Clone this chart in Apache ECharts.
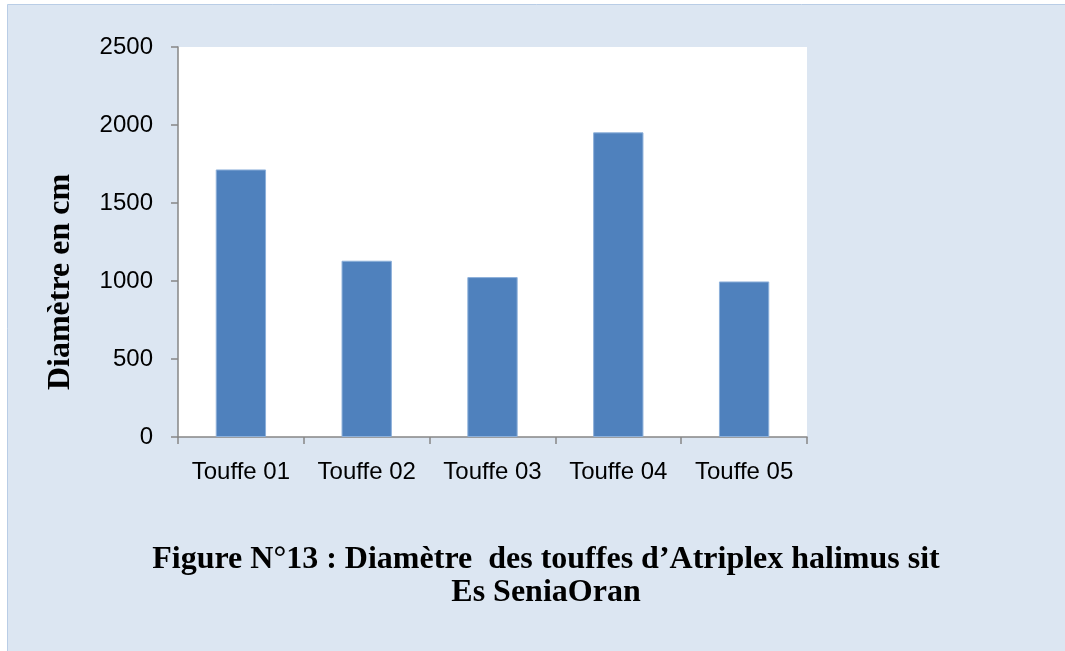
<!DOCTYPE html>
<html>
<head>
<meta charset="utf-8">
<script src="https://cdn.jsdelivr.net/npm/echarts@6/dist/echarts.min.js"></script>
<style>
html,body{margin:0;padding:0;background:#ffffff;}
#chart{width:1065px;height:651px;}
</style>
</head>
<body>
<div id="chart"></div>
<script>
var categories = ['Touffe 01', 'Touffe 02', 'Touffe 03', 'Touffe 04', 'Touffe 05'];
var diametres = [1715, 1130, 1025, 1953, 997];
var yTitle = 'Diamètre en cm';
var titleLines = ['Figure N°13 : Diamètre  des touffes d’Atriplex halimus sit', 'Es SeniaOran'];

var chart = echarts.init(document.getElementById('chart'), null, {renderer: 'canvas'});
chart.setOption({
  backgroundColor: '#ffffff',
  animation: false,
  graphic: [{
    type: 'rect',
    z: -10,
    shape: {x: 7.5, y: 4.5, width: 1065, height: 660},
    style: {fill: '#dce6f2', stroke: '#b9cde6', lineWidth: 1}
  }, {
    type: 'text',
    x: 61, y: 282,
    rotation: Math.PI / 2,
    style: {
      text: yTitle, fill: '#000',
      font: 'bold 32px "Liberation Serif"',
      textAlign: 'center', textVerticalAlign: 'middle'
    }
  }],
  title: {
    text: titleLines.join('\n'),
    left: 541, top: 538, textAlign: 'center',
    textStyle: {fontFamily: 'Liberation Serif', fontWeight: 'bold', fontSize: 32, lineHeight: 33, color: '#000'}
  },
  grid: {left: 178, right: 258, top: 47, bottom: 214, show: true, backgroundColor: '#ffffff', borderWidth: 0, containLabel: false},
  xAxis: {
    type: 'category',
    data: categories,
    axisLine: {lineStyle: {color: '#868686', width: 1.5}},
    axisTick: {show: true, length: 7, lineStyle: {color: '#868686', width: 1.5}},
    axisLabel: {color: '#000', fontFamily: 'Liberation Sans', fontSize: 24, margin: 23, interval: 0, hideOverlap: false}
  },
  yAxis: {
    type: 'value',
    min: 0, max: 2500, interval: 500,
    axisLine: {show: true, lineStyle: {color: '#868686', width: 1.5}},
    axisTick: {show: true, length: 7, lineStyle: {color: '#868686', width: 1.5}},
    splitLine: {show: false},
    axisLabel: {color: '#000', fontFamily: 'Liberation Sans', fontSize: 24, margin: 25,
      formatter: function (v) { return String(v); }}
  },
  series: [{
    type: 'bar',
    data: diametres,
    barWidth: '40%',
    itemStyle: {color: '#4f81bd', borderColor: '#8db0da', borderWidth: 1}
  }]
});
</script>
</body>
</html>
